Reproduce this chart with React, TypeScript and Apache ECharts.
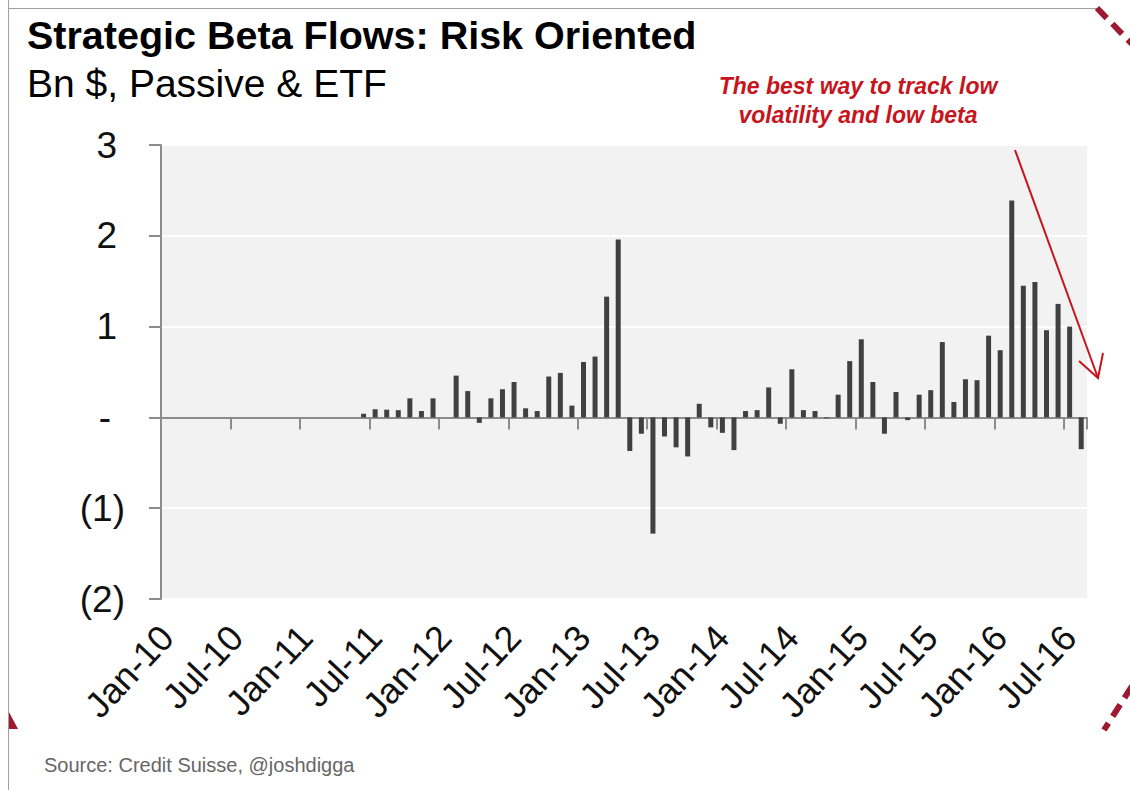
import React, { useEffect, useRef } from "react";
import * as echarts from "echarts";

// Monthly categories, Jan-10 through Aug-16
const MONTHS = ["Jan", "Feb", "Mar", "Apr", "May", "Jun", "Jul", "Aug", "Sep", "Oct", "Nov", "Dec"];
const YEARS = ["10", "11", "12", "13", "14", "15", "16"];
const CATEGORIES = YEARS.flatMap((y) => MONTHS.map((m) => `${m}-${y}`)).slice(0, 80);

// Net flows, Bn $
const FLOWS = [
  0, 0, 0, 0, 0, 0, 0, 0, 0, 0, 0, 0,
  0, 0, 0, 0, 0, 0.04, 0.09, 0.085, 0.08, 0.21, 0.07, 0.21,
  0, 0.46, 0.29, -0.06, 0.21, 0.31, 0.39, 0.1, 0.07, 0.45, 0.49, 0.13,
  0.61, 0.67, 1.33, 1.96, -0.37, -0.18, -1.28, -0.21, -0.33, -0.43, 0.15, -0.11,
  -0.17, -0.36, 0.07, 0.08, 0.33, -0.07, 0.53, 0.08, 0.07, -0.01, 0.25, 0.62,
  0.86, 0.39, -0.18, 0.28, -0.03, 0.25, 0.3, 0.83, 0.17, 0.42, 0.41, 0.9,
  0.74, 2.39, 1.45, 1.49, 0.96, 1.25, 1.0, -0.35,
];

const Y_MIN = -2;
const Y_MAX = 3;
const Y_STEP = 1;

const TITLE = "Strategic Beta Flows: Risk Oriented";
const SUBTITLE = "Bn $, Passive & ETF";
const NOTE = "The best way to track low\nvolatility and low beta";
const SOURCE = "Source: Credit Suisse, @joshdigga";

const FONT = '"Liberation Sans", Arial, Helvetica, sans-serif';
const AXIS_GREY = "#8c8c8c";
const RED = "#c5161d";
const FRAME_RED = "#9e1a30";

// accounting style: negatives in brackets, zero as a dash,
// positives padded so digits line up with the bracketed ones
const formatY = (v: number) =>
  v === 0 ? "{z|-}" : v < 0 ? `{n|(${-v})}` : `{p|${v}}`;

export default function App() {
  const ref = useRef<HTMLDivElement>(null);

  useEffect(() => {
    if (!ref.current) return;
    const chart = echarts.init(ref.current, null, { renderer: "svg" });

    const labelText = { fontSize: 37, color: "#111111", fontFamily: FONT };

    chart.setOption({
      animation: false,
      backgroundColor: "#ffffff",
      grid: {
        left: 161,
        right: 43,
        top: 145,
        bottom: 191,
        show: true,
        backgroundColor: "#f2f2f2",
        borderWidth: 0,
      },
      xAxis: [
        {
          type: "category",
          data: CATEGORIES,
          position: "bottom",
          axisLine: { show: true, onZero: true, lineStyle: { color: AXIS_GREY, width: 2 } },
          axisTick: { show: true, interval: 5, length: 12, lineStyle: { color: AXIS_GREY, width: 2 } },
          axisLabel: { show: false },
          splitLine: { show: false },
        },
        {
          type: "category",
          data: CATEGORIES,
          position: "bottom",
          axisLine: { show: false, onZero: false },
          axisTick: { show: false },
          axisLabel: {
            show: true,
            interval: 5,
            rotate: 47,
            margin: 32,
            fontSize: 36,
            color: "#111111",
            fontFamily: FONT,
          },
          splitLine: { show: false },
        },
      ],
      yAxis: {
        type: "value",
        min: Y_MIN,
        max: Y_MAX,
        interval: Y_STEP,
        axisLine: { show: true, lineStyle: { color: AXIS_GREY, width: 2 } },
        axisTick: { show: true, length: 12, lineStyle: { color: AXIS_GREY, width: 2 } },
        axisLabel: {
          formatter: formatY,
          margin: 36,
          ...labelText,
          rich: {
            p: { ...labelText, padding: [0, 8, 0, 0] },
            z: { ...labelText, padding: [0, 14, 0, 0] },
            n: { ...labelText },
          },
        },
        splitLine: { show: true, lineStyle: { color: "#ffffff", width: 2 } },
      },
      series: [
        {
          type: "bar",
          xAxisIndex: 0,
          data: FLOWS,
          barWidth: 5,
          itemStyle: { color: "#404040" },
        },
      ],
      graphic: [
        // page frame
        { type: "line", shape: { x1: 8.5, y1: 0, x2: 8.5, y2: 790 }, style: { stroke: "#a0a0a0", lineWidth: 1 }, z: 10 },
        { type: "line", shape: { x1: 8, y1: 8.5, x2: 1098, y2: 8.5 }, style: { stroke: "#a0a0a0", lineWidth: 1 }, z: 10 },
        // red dashed frame corners
        { type: "line", shape: { x1: 1097, y1: 8, x2: 1132, y2: 44 }, style: { stroke: FRAME_RED, lineWidth: 6, lineDash: [14, 8] }, z: 10 },
        { type: "line", shape: { x1: 1132, y1: 686, x2: 1104, y2: 730 }, style: { stroke: FRAME_RED, lineWidth: 6, lineDash: [14, 8] }, z: 10 },
        { type: "polygon", shape: { points: [[9, 712], [18, 729], [9, 729]] }, style: { fill: FRAME_RED }, z: 10 },
        // titles
        {
          type: "text",
          x: 27,
          y: 35,
          style: { text: TITLE, font: `bold 39.5px ${FONT}`, fill: "#000000", textAlign: "left", textVerticalAlign: "middle" },
          z: 10,
        },
        {
          type: "text",
          x: 27,
          y: 83,
          style: { text: SUBTITLE, font: `39px ${FONT}`, fill: "#000000", textAlign: "left", textVerticalAlign: "middle" },
          z: 10,
        },
        // annotation
        {
          type: "text",
          x: 858,
          y: 100,
          style: {
            text: NOTE,
            font: `italic bold 23px ${FONT}`,
            lineHeight: 29,
            fill: RED,
            textAlign: "center",
            textVerticalAlign: "middle",
          },
          z: 10,
        },
        { type: "line", shape: { x1: 1015, y1: 150, x2: 1098, y2: 378 }, style: { stroke: RED, lineWidth: 2 }, z: 10 },
        {
          type: "polyline",
          shape: { points: [[1079, 361], [1098, 378], [1103, 353]] },
          style: { stroke: RED, lineWidth: 2, fill: "none" },
          z: 10,
        },
        // source line
        {
          type: "text",
          x: 44,
          y: 765,
          style: { text: SOURCE, font: `20px ${FONT}`, fill: "#666666", textAlign: "left", textVerticalAlign: "middle" },
          z: 10,
        },
      ],
    });

    return () => chart.dispose();
  }, []);

  return (
    <div
      ref={ref}
      style={{ position: "absolute", left: 0, top: 0, width: 1130, height: 790 }}
    />
  );
}
